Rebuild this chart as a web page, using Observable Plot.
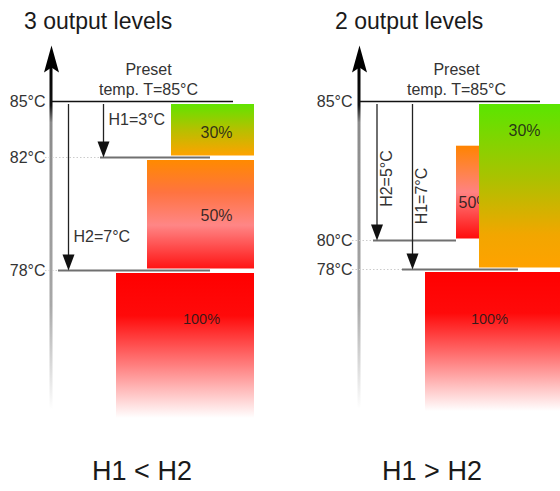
<!DOCTYPE html>
<html>
<head>
<meta charset="utf-8">
<script src="https://cdn.jsdelivr.net/npm/d3@7"></script>
<script src="https://cdn.jsdelivr.net/npm/@observablehq/plot@0.6"></script>
<style>
  html, body { margin: 0; padding: 0; background: #fff; }
  #wrap { position: relative; width: 560px; height: 491px; overflow: hidden; font-family: "Liberation Sans", Arial, sans-serif; color: #1a1a1a; }
  .panel { position: absolute; top: 0; width: 280px; height: 491px; }
  .title { position: absolute; top: 10px; font-size: 23px; line-height: 1; white-space: nowrap; }
  .chart { position: absolute; top: 40px; left: 0; }
  .caption { position: absolute; top: 458px; font-size: 27px; line-height: 1; white-space: nowrap; transform: translateX(-50%); }
</style>
</head>
<body>
<div id="wrap">
  <div class="panel" id="pL" style="left:0">
    <div class="title" style="left:24px">3 output levels</div>
    <div class="chart"></div>
    <div class="caption" style="left:142px">H1 &lt; H2</div>
  </div>
  <div class="panel" id="pR" style="left:280px">
    <div class="title" style="left:55px">2 output levels</div>
    <div class="chart"></div>
    <div class="caption" style="left:152px">H1 &gt; H2</div>
  </div>
</div>
<script>
// ---------- data ----------
const presetTemp = 85;
const presetLabel = "Preset\ntemp. T=85°C";

// Left panel: 3 output levels (H1 < H2)
const leftTicks = [85, 82, 78];
const leftLevels = ["30%", "50%", "100%"];
const leftFrom = [85, 82, 78];
const leftTo = [82, 78, 70];
const leftHyst = ["H1=3°C", "H2=7°C"];
const leftHystTo = [82, 78];

// Right panel: 2 output levels (H1 > H2)
const rightTicks = [85, 80, 78];
const rightLevels = ["50%", "30%", "100%"];
const rightFrom = [83.5, 85, 78];
const rightTo = [80, 78, 70];
const rightHyst = ["H2=5°C", "H1=7°C"];
const rightHystTo = [80, 78];

// ---------- layout (diagram geometry, not data) ----------
const W = 280, H = 400;
const layoutL = {
  id: "L",
  yDomain: [88, 85, 82, 78, 70], yRange: [5, 61, 117, 230, 387],
  axisX: 51, axisBottom: 70.9, labelX: 45, presetEnd: 233, presetX: 148,
  bars: [{x1: 171, x2: 254, grad: "g30"}, {x1: 147, x2: 254, grad: "g50"}, {x1: 116, x2: 254, grad: "g100"}],
  barLabels: [{x: 216, y: 83.3, size: 16, anchor: "middle"}, {x: 216, y: 79.95, size: 16, anchor: "middle"}, {x: 201, y: 75.5, size: 14.5, anchor: "middle"}],
  thresholds: [{dotEnd: 100, end: 210}, {dotEnd: 58, end: 210}],
  arrows: [{x: 103, tx: 108, ty: 84, rotate: 0}, {x: 68, tx: 73, ty: 79.2, rotate: 0}]
};
const layoutR = {
  id: "R",
  yDomain: [88, 85, 80, 78, 70], yRange: [5, 61, 200, 229, 380],
  axisX: 79, axisBottom: 70.6, labelX: 72, presetEnd: 260, presetX: 176,
  bars: [{x1: 176, x2: 230, grad: "g50R"}, {x1: 199, x2: 300, grad: "g30R"}, {x1: 145, x2: 300, grad: "g100"}],
  barLabels: [{x: 178, y: 81.35, size: 16, anchor: "start"}, {x: 244, y: 83.96, size: 16, anchor: "middle"}, {x: 209, y: 75.35, size: 14.5, anchor: "middle"}],
  thresholds: [{dotEnd: 93, end: 176}, {dotEnd: 122, end: 238}],
  arrows: [{x: 96.5, tx: 106, ty: 82.23, rotate: -90}, {x: 132, tx: 141, ty: 81.6, rotate: -90}]
};

// ---------- styles ----------
const gradients = {
  g30: [[0, "#60e400"], [0.5, "#b6c000"], [1, "#ffa200"]],
  g50: [[0, "#ff8a00"], [0.3, "#ff7340"], [0.6, "#ff8686"], [1, "#ff1414"]],
  g100: [[0, "#ff0000"], [0.28, "#ff0a0a"], [0.62, "#ff8484"], [0.95, "#ffffff"], [1, "#ffffff"]],
  g30R: [[0, "#5ae600"], [0.45, "#aac200"], [0.8, "#f2a600"], [1, "#ffa200"]],
  g50R: [[0, "#ff8400"], [0.5, "#ff8282"], [1, "#ff0c0c"]],
  gAxis: [[0, "#000"], [0.12, "#111"], [0.17, "#8a8a8a"], [0.7, "#a8a8a8"], [1, "#ffffff"]]
};

const upArrow = {draw(ctx) { ctx.moveTo(0, 0); ctx.lineTo(-7.5, 27); ctx.lineTo(0, 22); ctx.lineTo(7.5, 27); ctx.closePath(); }};
const downArrow = {draw(ctx) { ctx.moveTo(0, 0); ctx.lineTo(-6, -16); ctx.lineTo(6, -16); ctx.closePath(); }};

function defsMark(suffix) {
  return () => {
    const defs = d3.create("svg:defs");
    for (const [name, stops] of Object.entries(gradients)) {
      const g = defs.append("linearGradient").attr("id", name + suffix)
        .attr("x1", 0).attr("y1", 0).attr("x2", 0).attr("y2", 1);
      for (const [o, c] of stops) g.append("stop").attr("offset", o).attr("stop-color", c);
    }
    return defs.node();
  };
}

function panel(L, ticks, levels, from, to, hyst, hystTo) {
  const s = L.id;
  const bands = levels.map((level, i) => ({level, from: from[i], to: to[i], i}));
  const marks = [defsMark(s)];

  // vertical axis (fading) with arrow head
  marks.push(Plot.rect([0], {x1: L.axisX - 1.5, x2: L.axisX + 1.5, y1: 87, y2: L.axisBottom, fill: `url(#gAxis${s})`}));
  marks.push(Plot.dot([0], {x: L.axisX, y: 88, symbol: upArrow, fill: "#000", stroke: "none"}));

  // output-level bars and labels
  bands.forEach((b, i) => {
    const bl = L.bars[i], lab = L.barLabels[i];
    marks.push(Plot.rect([b], {x1: bl.x1, x2: bl.x2, y1: "from", y2: "to", insetTop: 3, insetBottom: 1.5, fill: `url(#${bl.grad}${s})`}));
    marks.push(Plot.text([b], {x: lab.x, y: lab.y, text: "level", fontSize: lab.size, textAnchor: lab.anchor, fill: "#1a1a1a", fillOpacity: 0.88}));
  });

  // preset line and label
  marks.push(Plot.ruleY([presetTemp], {y: d => d, x1: L.axisX, x2: L.presetEnd, stroke: "#111", strokeWidth: 1.6}));
  marks.push(Plot.text([presetLabel], {x: L.presetX, y: presetTemp, text: d => d, lineAnchor: "bottom", dy: -7, lineHeight: 1.25, fontSize: 16, fill: "#333"}));

  // switching thresholds
  hystTo.forEach((t, i) => {
    const th = L.thresholds[i];
    marks.push(Plot.ruleY([t], {y: d => d, x1: L.labelX, x2: th.dotEnd, stroke: "#ccc", strokeWidth: 1, strokeDasharray: "1.5,2"}));
    marks.push(Plot.ruleY([t], {y: d => d, x1: th.dotEnd, x2: th.end, stroke: "#707070", strokeWidth: 2}));
  });

  // hysteresis arrows
  hyst.forEach((label, i) => {
    const a = L.arrows[i];
    marks.push(Plot.ruleX([hystTo[i]], {x: a.x, y1: presetTemp, y2: d => d, insetTop: 3, insetBottom: 12, stroke: "#222", strokeWidth: 1.3}));
    marks.push(Plot.dot([hystTo[i]], {x: a.x, y: d => d, symbol: downArrow, fill: "#111", stroke: "none"}));
    marks.push(Plot.text([label], {x: a.tx, y: a.ty, text: d => d, rotate: a.rotate, textAnchor: a.rotate ? "middle" : "start", fontSize: 16, fill: "#333"}));
  });

  // tick labels
  marks.push(Plot.text(ticks, {x: L.labelX, y: d => d, text: d => `${d}°C`, textAnchor: "end", fontSize: 16, fill: "#333"}));

  return Plot.plot({
    width: W, height: H, margin: 0,
    x: {domain: [0, W], range: [0, W], axis: null},
    y: {type: "linear", domain: L.yDomain, range: L.yRange, axis: null},
    style: {fontFamily: "'Liberation Sans', Arial, sans-serif", background: "transparent", overflow: "visible"},
    marks
  });
}

document.querySelector("#pL .chart").append(panel(layoutL, leftTicks, leftLevels, leftFrom, leftTo, leftHyst, leftHystTo));
document.querySelector("#pR .chart").append(panel(layoutR, rightTicks, rightLevels, rightFrom, rightTo, rightHyst, rightHystTo));
</script>
</body>
</html>
